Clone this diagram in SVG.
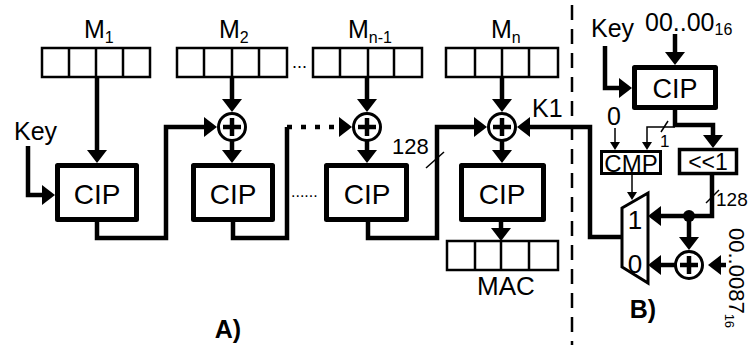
<svg xmlns="http://www.w3.org/2000/svg" width="750" height="345" viewBox="0 0 750 345">
<style>
text{font-family:"Liberation Sans",Arial,sans-serif;fill:#000}
.cip{fill:#fff;stroke:#000;stroke-width:5;stroke-linejoin:round}
.reg{fill:#fff;stroke:#000;stroke-width:2.5}
.div{stroke:#000;stroke-width:2.5}
.w{fill:none;stroke:#000;stroke-width:4.5;stroke-linejoin:miter}
.t{fill:none;stroke:#000;stroke-width:1.5}
.xc{fill:#fff;stroke:#000;stroke-width:3}
.xp{stroke:#000;stroke-width:4.5}
.lbl{font-size:25px}
.sub{font-size:16px}
.big{font-size:28px}
.bold{font-size:25px;font-weight:bold}
</style>
<defs>
<marker id="ah" markerUnits="userSpaceOnUse" markerWidth="14" markerHeight="20" refX="9" refY="10" orient="auto"><path d="M0,0 L13,10 L0,20 z" fill="#000"/></marker>
<marker id="ahs" markerUnits="userSpaceOnUse" markerWidth="10" markerHeight="10" refX="6" refY="5" orient="auto"><path d="M0,0 L8,5 L0,10 z" fill="#000"/></marker>
<g id="xor"><circle r="13.5" class="xc"/><line x1="-9" y1="0" x2="9" y2="0" class="xp"/><line x1="0" y1="-9" x2="0" y2="9" class="xp"/></g>
</defs>
<rect width="750" height="345" fill="#fff"/>

<g id="connectors">
<line x1="97" y1="78" x2="97" y2="159" class="w" marker-end="url(#ah)"/>
<polyline points="28,146 28,195 51,195" class="w" marker-end="url(#ah)"/>
<line x1="232" y1="78" x2="232" y2="108" class="w" marker-end="url(#ah)"/>
<line x1="232" y1="141" x2="232" y2="159" class="w" marker-end="url(#ah)"/>
<polyline points="97,222 97,238 166,238 166,127 213,127" class="w" marker-end="url(#ah)"/>
<polyline points="233,222 233,238 287,238 287,127" class="w"/>
<line x1="287" y1="127" x2="348" y2="127" class="w" stroke-dasharray="5 9" marker-end="url(#ah)"/>
<line x1="367" y1="78" x2="367" y2="108" class="w" marker-end="url(#ah)"/>
<line x1="367" y1="141" x2="367" y2="159" class="w" marker-end="url(#ah)"/>
<polyline points="368,222 368,238 437,238 437,127 483,127" class="w" marker-end="url(#ah)"/>
<line x1="426" y1="168" x2="444" y2="152" class="t"/>
<line x1="502" y1="78" x2="502" y2="108" class="w" marker-end="url(#ah)"/>
<line x1="502" y1="141" x2="502" y2="159" class="w" marker-end="url(#ah)"/>
<line x1="501" y1="222" x2="501" y2="237" class="w" marker-end="url(#ah)"/>
<polyline points="622,237 590,237 590,127 521,127" class="w" marker-end="url(#ah)"/>
<polyline points="605,46 605,88 628,88" class="w" marker-end="url(#ah)"/>
<line x1="675" y1="34" x2="675" y2="61" class="w" marker-end="url(#ah)"/>
<polyline points="675,110 675,125 713,125 713,144" class="w" marker-end="url(#ah)"/>
<polyline points="675,127 647,127 647,148" class="t" marker-end="url(#ahs)"/>
<line x1="661" y1="132" x2="668" y2="121" class="t"/>
<line x1="615" y1="128" x2="615" y2="148" class="t" marker-end="url(#ahs)"/>
<line x1="632" y1="175" x2="632" y2="198" class="t" marker-end="url(#ahs)"/>
<polyline points="712,175 712,216 652,216" class="w" marker-end="url(#ah)"/>
<line x1="706" y1="203" x2="719" y2="190" class="t"/>
<line x1="689" y1="216" x2="689" y2="246" class="w" marker-end="url(#ah)"/>
<line x1="675" y1="265" x2="652" y2="265" class="w" marker-end="url(#ah)"/>
<line x1="726" y1="265" x2="712" y2="265" class="w" marker-end="url(#ah)"/>
<circle cx="689" cy="216" r="6" fill="#000"/>
</g>

<line x1="572" y1="5" x2="572" y2="345" stroke="#000" stroke-width="2.5" stroke-dasharray="15 9"/>

<g id="m1">
<rect x="42" y="48" width="108" height="29" class="reg"/>
<line x1="69" y1="48" x2="69" y2="77" class="div"/><line x1="96" y1="48" x2="96" y2="77" class="div"/><line x1="123" y1="48" x2="123" y2="77" class="div"/>
<text x="84" y="38" class="lbl">M<tspan class="sub" dy="5">1</tspan></text>
</g>
<g id="m2">
<rect x="177" y="48" width="110" height="29" class="reg"/>
<line x1="204" y1="48" x2="204" y2="77" class="div"/><line x1="232" y1="48" x2="232" y2="77" class="div"/><line x1="259" y1="48" x2="259" y2="77" class="div"/>
<text x="219" y="38" class="lbl">M<tspan class="sub" dy="5">2</tspan></text>
</g>
<text x="292" y="68" font-size="18">...</text>
<g id="mn1">
<rect x="313" y="48" width="109" height="29" class="reg"/>
<line x1="340" y1="48" x2="340" y2="77" class="div"/><line x1="368" y1="48" x2="368" y2="77" class="div"/><line x1="394" y1="48" x2="394" y2="77" class="div"/>
<text x="348" y="38" class="lbl">M<tspan class="sub" dy="5">n-1</tspan></text>
</g>
<g id="mn">
<rect x="446" y="48" width="112" height="29" class="reg"/>
<line x1="475" y1="48" x2="475" y2="77" class="div"/><line x1="502" y1="48" x2="502" y2="77" class="div"/><line x1="529" y1="48" x2="529" y2="77" class="div"/>
<text x="491" y="38" class="lbl">M<tspan class="sub" dy="5">n</tspan></text>
</g>

<g id="xor2"><use href="#xor" x="232" y="127"/></g>
<g id="xor3"><use href="#xor" x="367" y="127"/></g>
<g id="xor4"><use href="#xor" x="502" y="127"/></g>

<g id="cip1"><rect x="57.5" y="165.5" width="79" height="54" class="cip"/><text x="97" y="204" class="big" text-anchor="middle">CIP</text></g>
<g id="cip2"><rect x="193.5" y="165.5" width="79" height="54" class="cip"/><text x="233" y="204" class="big" text-anchor="middle">CIP</text></g>
<text x="291" y="197" font-size="16">......</text>
<g id="cip3"><rect x="326.5" y="165.5" width="80" height="54" class="cip"/><text x="367" y="204" class="big" text-anchor="middle">CIP</text></g>
<g id="cip4"><rect x="461.5" y="165.5" width="82" height="54" class="cip"/><text x="502" y="204" class="big" text-anchor="middle">CIP</text></g>

<g id="mac">
<rect x="447" y="241" width="111" height="29" class="reg"/>
<line x1="475" y1="241" x2="475" y2="270" class="div"/><line x1="501" y1="241" x2="501" y2="270" class="div"/><line x1="529" y1="241" x2="529" y2="270" class="div"/>
<text x="506" y="295" font-size="26" text-anchor="middle">MAC</text>
</g>

<text x="14" y="140" font-size="25">Key</text>
<text x="392" y="154" font-size="22">128</text>
<text x="532" y="117" class="lbl">K1</text>
<text x="228" y="338" class="bold" text-anchor="middle">A)</text>

<g id="cipb"><rect x="634.5" y="67.5" width="81" height="40" class="cip"/><text x="675" y="98" font-size="27" text-anchor="middle">CIP</text></g>
<text x="591" y="37" font-size="25">Key</text>
<text x="645" y="31" class="lbl">00..00<tspan class="sub" dy="4">16</tspan></text>
<text x="607" y="125" class="lbl">0</text>
<text x="660" y="147" font-size="17">1</text>

<g id="cmp"><rect x="601.5" y="151.5" width="59" height="22" fill="#fff" stroke="#000" stroke-width="3"/><text x="631" y="172" font-size="24" text-anchor="middle">CMP</text></g>
<g id="shl"><rect x="679.5" y="149.5" width="57" height="24" fill="#fff" stroke="#000" stroke-width="3.5"/><text x="708" y="170" font-size="23" text-anchor="middle">&lt;&lt;1</text></g>

<g id="mux">
<polygon points="622,208 648,193 648,283 622,267" fill="#fff" stroke="#000" stroke-width="3"/>
<text x="635" y="229" font-size="26" text-anchor="middle">1</text>
<text x="635" y="273" font-size="26" text-anchor="middle">0</text>
</g>
<g id="xorb"><use href="#xor" x="689" y="265"/></g>
<text x="716" y="206" font-size="19">128</text>
<text transform="translate(729,228) rotate(90)" font-size="22">00..0087<tspan font-size="13" dy="4">16</tspan></text>
<text x="643" y="318" class="bold" text-anchor="middle">B)</text>
</svg>
